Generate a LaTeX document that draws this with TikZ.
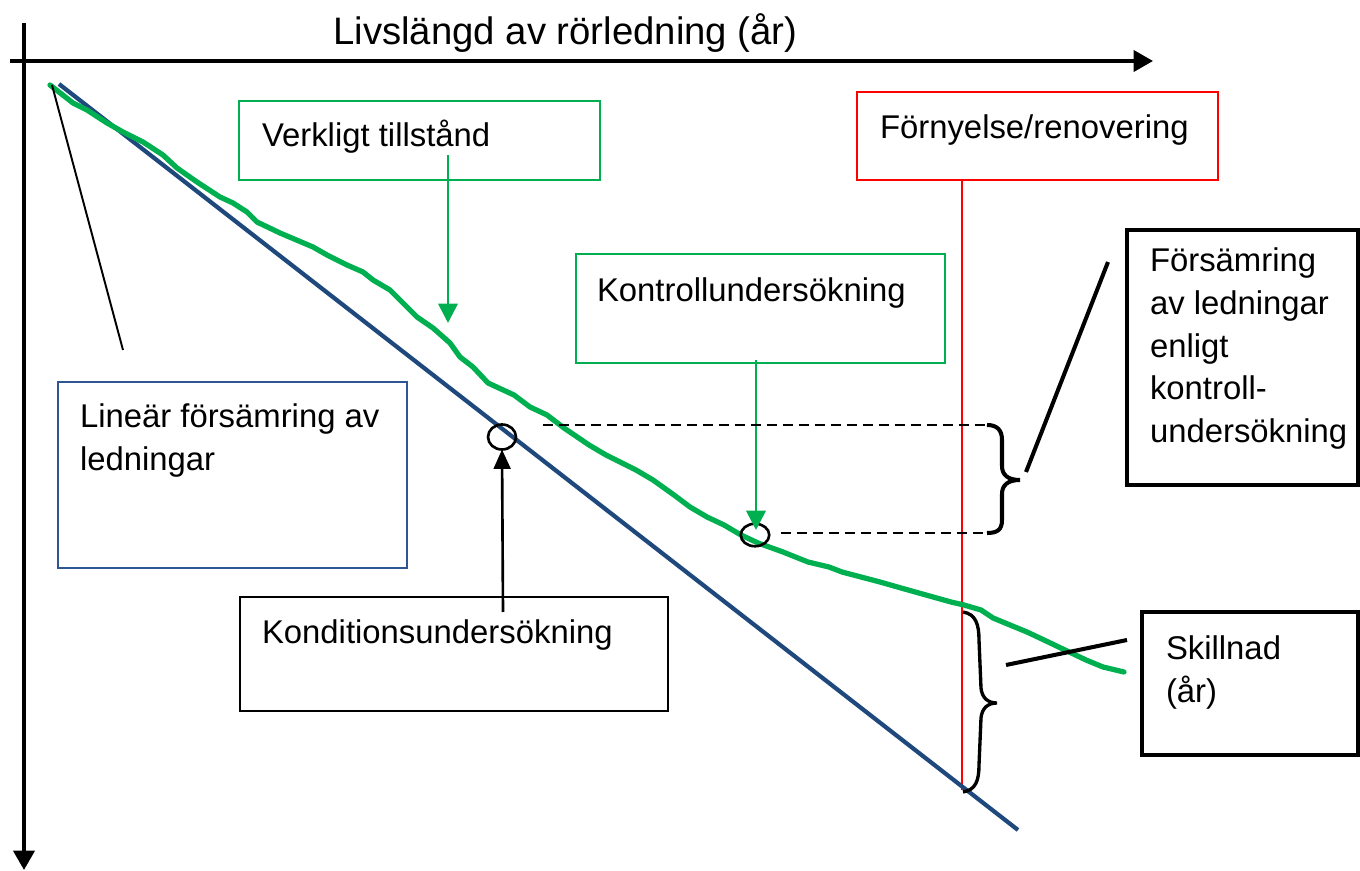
\documentclass[tikz,border=0pt]{standalone}
\usepackage{fontspec}
\setmainfont{Liberation Sans}
\usetikzlibrary{arrows.meta,shapes.geometric}
\definecolor{mygreen}{RGB}{0,176,80}
\definecolor{lineblue}{RGB}{31,73,125}
\definecolor{boxblue}{RGB}{47,85,151}
\definecolor{myred}{RGB}{255,0,0}
\begin{document}
\begin{tikzpicture}[x=0.02cm,y=-0.02cm,
  box/.style={draw, rectangle, inner sep=0pt, outer sep=0pt},
  txt/.style={anchor=base west, inner sep=0pt, outer sep=0pt, font=\fontsize{18.7}{24.2}\selectfont},
  axis/.style={line width=2pt, -{Triangle[length=11pt,width=12pt]}},
  garrow/.style={draw=mygreen, line width=1.5pt, -{Triangle[length=11pt,width=11pt]}},
  barrow/.style={line width=1.5pt, -{Triangle[length=11pt,width=9.5pt]}},
  ring/.style={draw, ellipse, line width=1.5pt, inner sep=0pt, outer sep=0pt},
  dline/.style={line width=1.5pt, dash pattern=on 5.7pt off 3.4pt},
  pointer/.style={line width=2.3pt},
]
\useasboundingbox (0,0) rectangle (1360,871);

% axes
\coordinate (hx0) at (10,61);  \coordinate (hx1) at (1153,61);
\coordinate (vy0) at (24,23);  \coordinate (vy1) at (24,870);
\draw[axis] (hx0) -- (hx1);
\draw[axis] (vy0) -- (vy1);
\node[anchor=base west, inner sep=0pt, font=\fontsize{21.8}{26}\selectfont] (title) at (333,45) {Livslängd av rörledning (år)};

% boxes
\node[box, draw=mygreen, line width=1.4pt, minimum width=7.22cm, minimum height=1.58cm] (verk) at (419.5,140.5) {};
\node[txt] (verkT) at (262,147) {Verkligt tillstånd};

\node[box, draw=myred, line width=1.2pt, minimum width=7.22cm, minimum height=1.76cm] (forn) at (1037.5,136) {};
\node[txt] (fornT) at (880,139) {Förnyelse/renovering};

\node[box, draw=mygreen, line width=1.4pt, minimum width=7.38cm, minimum height=2.18cm] (kontr) at (760.5,308.5) {};
\node[txt] (kontrT) at (597,302) {Kontrollundersökning};

\node[box, draw=boxblue, line width=1.4pt, minimum width=6.98cm, minimum height=3.72cm] (linj) at (232.5,475) {};
\node[txt] (linjT) at (80,428) {\begin{tabular}[t]{@{}l@{}}Lineär försämring av\\ledningar\end{tabular}};

\node[box, line width=1.4pt, minimum width=8.56cm, minimum height=2.28cm] (kond) at (454,654) {};
\node[txt] (kondT) at (262,643) {Konditionsundersökning};

\node[box, line width=2.2pt, minimum width=4.62cm, minimum height=5.10cm] (fors) at (1242.5,357.5) {};
\node[txt] (forsT) at (1150,272) {\begin{tabular}[t]{@{}l@{}}Försämring\\av ledningar\\enligt\\kontroll-\\undersökning\end{tabular}};

\node[box, line width=2.2pt, minimum width=4.32cm, minimum height=2.86cm] (skill) at (1250,683.5) {};
\node[txt] (skillT) at (1166,660) {\begin{tabular}[t]{@{}l@{}}Skillnad\\(år)\end{tabular}};

% red renewal line
\coordinate (r0) at (962,180); \coordinate (r1) at (962,790);
\draw[draw=myred, line width=1.3pt] (r0) -- (r1);

% linear deterioration
\coordinate (l0) at (59,84); \coordinate (l1) at (1018,830);
\draw[draw=lineblue, line width=2.4pt] (l0) -- (l1);

% actual condition curve
\draw[draw=mygreen, line width=3pt, line join=round, line cap=round]
 (50,85) -- (73,103) -- (87,110) -- (107,123) -- (123,132) -- (143,142) -- (163,155) -- (177,168)
 -- (197,182) -- (220,197) -- (233,203) -- (247,212) -- (257,222) -- (280,233) -- (313,247)
 -- (327,255) -- (347,265) -- (363,272) -- (373,280) -- (390,290) -- (400,300) -- (417,317)
 -- (433,328) -- (450,343) -- (460,357) -- (473,367) -- (488,383) -- (514,395) -- (530,407)
 -- (547,415) -- (564,428) -- (589,445) -- (606,455) -- (636,470) -- (653,480) -- (674,495)
 -- (690,507) -- (707,517) -- (724,525) -- (741,535) -- (758,543) -- (783,552) -- (808,562)
 -- (829,567) -- (842,572) -- (880,582) -- (901,588) -- (926,595) -- (951,602) -- (964,605)
 -- (981,610) -- (993,618) -- (1027,632) -- (1044,640) -- (1065,650) -- (1086,660) -- (1103,667)
 -- (1124,672);

% rings
\node[ring, minimum width=0.56cm, minimum height=0.50cm] (c1) at (502,437) {};
\node[ring, minimum width=0.57cm, minimum height=0.45cm] (c2) at (755,535) {};

% arrows
\coordinate (va0) at (448,155); \coordinate (va1) at (448,323);
\draw[garrow] (va0) -- (va1);
\coordinate (ka0) at (756,360); \coordinate (ka1) at (756,530);
\draw[garrow] (ka0) -- (ka1);
\coordinate (ba0) at (503,612);
\draw[barrow] (ba0) -- (c1.south);

% dashed lines and brace
\coordinate (d1) at (543,425); \coordinate (b1t) at (987,425);
\coordinate (d2) at (781,533); \coordinate (b1b) at (987,533);
\draw[dline] (d1) -- (b1t);
\draw[dline] (d2) -- (b1b);
\coordinate (b1tip) at (1020,480);
\draw[line width=2.3pt] (b1t) .. controls (997,425) and (1002,430) .. (1002,440) -- (1002,466)
  .. controls (1002,475) and (1008,480) .. (b1tip)
  .. controls (1008,480) and (1002,485) .. (1002,494) -- (1002,520)
  .. controls (1002,530) and (997,533) .. (b1b);

\coordinate (b2t) at (963,612); \coordinate (b2b) at (963,792); \coordinate (b2tip) at (997,703);
\draw[line width=1.9pt] (b2t) .. controls (976,614) and (979,625) .. (979,640) -- (981,688)
  .. controls (982,698) and (988,703) .. (b2tip)
  .. controls (988,703) and (982,708) .. (981,718) -- (979,765)
  .. controls (979,780) and (976,790) .. (b2b);

% pointer lines
\coordinate (p1a) at (52,85); \coordinate (p1b) at (123,350);
\draw[line width=1.1pt] (p1a) -- (p1b);
\coordinate (p2a) at (1108,262); \coordinate (p2b) at (1026,472);
\draw[pointer] (p2a) -- (p2b);
\coordinate (p3a) at (1006,665); \coordinate (p3b) at (1127,640);
\draw[pointer] (p3a) -- (p3b);
\end{tikzpicture}
\end{document}
